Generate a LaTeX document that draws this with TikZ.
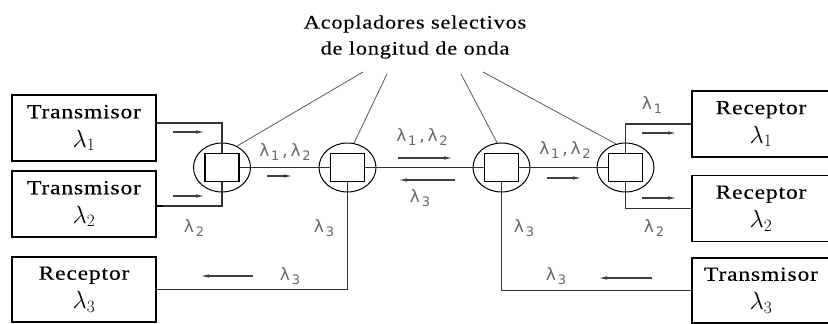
\documentclass[tikz,border=0pt]{standalone}
\usepackage{fontspec}
\setmainfont{Liberation Serif}[FakeStretch=1.18,LetterSpace=4,FakeBold=0.2]
\newfontfamily\lblfont{DejaVu Sans}
\usepackage{tikz}
\usetikzlibrary{arrows.meta, shapes.geometric}
\newcommand{\wl}[1]{λ\kern1.8pt\raisebox{-4pt}{\fontsize{13}{13}\selectfont #1}}
\newcommand{\bl}[1]{{\fontsize{25}{25}\selectfont$\lambda_{#1}$}}

\begin{document}
\begin{tikzpicture}[x=1pt, y=-1pt,
    box/.style={draw, line width=1.2pt, minimum width=144pt, minimum height=66pt,
      inner sep=0pt, align=center, font=\fontsize{20}{29}\selectfont},
    coupler/.style={ellipse, draw, line width=1pt, minimum width=57pt,
      minimum height=49pt, inner sep=0pt},
    sq/.style={draw, line width=1.2pt, minimum width=34pt, minimum height=28pt,
      inner sep=0pt, fill=white},
    link/.style={line width=1.3pt, draw=black!80},
    lead/.style={line width=0.8pt, draw=black!65},
    flow/.style={-{Latex[length=9pt,width=3.5pt]}, line width=1.2pt, draw=black!75},
    wlab/.style={text=black!60, font=\lblfont\fontsize{17}{17}\selectfont, inner sep=1pt}]
  \useasboundingbox (0,0) rectangle (828,324);

  % end stations
  \node[box] (txa) at (84,128) {Transmisor\\\bl{1}};
  \node[box] (txb) at (84,204) {Transmisor\\\bl{2}};
  \node[box, minimum height=65pt] (rxc) at (84,289.5) {Receptor\\\bl{3}};
  \node[box, minimum width=138pt] (rxa) at (761,124) {Receptor\\\bl{1}};
  \node[box, minimum width=138pt] (rxb) at (761,208.5) {Receptor\\\bl{2}};
  \node[box, minimum width=138pt, minimum height=65pt] (txc) at (761,290.5) {Transmisor\\\bl{3}};

  % wavelength selective couplers
  \node[coupler] (c1) at (222,167.5) {};
  \node[sq] (s1) at (222,167.5) {};
  \node[coupler] (c2) at (347.5,167.5) {};
  \node[sq] (s2) at (347.5,167.5) {};
  \node[coupler] (c3) at (501.5,167.5) {};
  \node[sq] (s3) at (501.5,167.5) {};
  \node[coupler] (c4) at (625.5,167.5) {};
  \node[sq] (s4) at (625.5,167.5) {};

  % fibre links
  \draw[link] ([yshift=5pt]txa.east) -| (s1.north);
  \draw[link] ([yshift=-2pt]txb.east) -| (s1.south);
  \draw[line width=2.6pt] ([yshift=-2pt]txb.east) -- ++(6,0);
  \draw[link] (s1.east) -- (s2.west);
  \draw[link] (s2.east) -- (s3.west);
  \draw[link] (s3.east) -- (s4.west);
  \draw[link] (s2.south) |- (rxc.east);
  \draw[link] (s3.south) |- (txc.west);
  \draw[link] (s4.north) |- (rxa.west);
  \draw[link] (s4.south) |- (rxb.west);

  % caption with leaders
  \node[font=\fontsize{19}{26}\selectfont, align=center] (title) at (415,37)
    {Acopladores selectivos\\de longitud de onda};
  \coordinate (ta) at (363,72);
  \coordinate (tb) at (387,74);
  \coordinate (tc) at (461,74);
  \coordinate (td) at (483,72);
  \draw[lead] (ta) -- (c1.55);
  \draw[lead] (tb) -- (c2.75);
  \draw[lead] (tc) -- (c3.100);
  \draw[lead] (td) -- (c4.112);

  % direction of travel
  \draw[flow] (173,132) -- (205,132);
  \draw[flow] (173,196) -- (205,196);
  \draw[flow] (267,176) -- (293,176);
  \draw[flow] (398,158) -- (453,158);
  \draw[flow] (455,180) -- (398,180);
  \draw[flow] (547,178) -- (582,178);
  \draw[flow] (642,133) -- (677,133);
  \draw[flow] (642,198) -- (677,198);
  \draw[flow] (253,276) -- (200,276);
  \draw[flow] (652,278) -- (598,278);

  % wavelengths
  \node[wlab] (w1) at (285,152) {\wl{1}\,,\,\wl{2}};
  \node[wlab] (w2) at (194,228) {\wl{2}};
  \node[wlab] (w3) at (324,228) {\wl{3}};
  \node[wlab] (w4) at (290,276) {\wl{3}};
  \node[wlab] (w5) at (422,137) {\wl{1}\,,\,\wl{2}};
  \node[wlab] (w6) at (420,198) {\wl{3}};
  \node[wlab] (w7) at (565,150) {\wl{1}\,,\,\wl{2}};
  \node[wlab] (w8) at (524,228) {\wl{3}};
  \node[wlab] (w9) at (556,276) {\wl{3}};
  \node[wlab] (w10) at (652,105) {\wl{1}};
  \node[wlab] (w11) at (654,228) {\wl{2}};
\end{tikzpicture}
\end{document}
